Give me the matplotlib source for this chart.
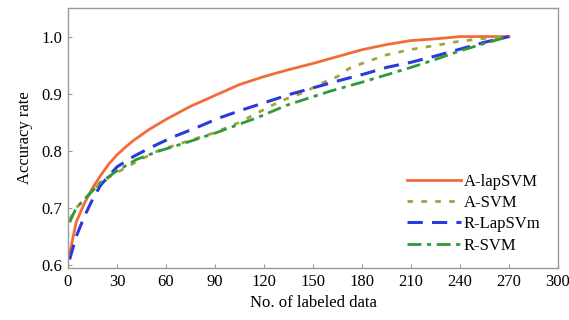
import matplotlib
matplotlib.use("Agg")
import matplotlib.pyplot as plt

plt.rcParams['font.family'] = ['Liberation Serif', 'DejaVu Serif']

x_lap = [1, 5, 10, 15, 20, 25, 30, 35, 40, 50, 60, 75, 90, 105, 120, 135, 150, 165, 180, 195, 210, 225, 240, 255, 270]
a_lapsvm = [0.62, 0.675, 0.708, 0.735, 0.757, 0.777, 0.793, 0.806, 0.818, 0.838, 0.855, 0.878, 0.897, 0.916, 0.930, 0.942, 0.953, 0.965, 0.977, 0.986, 0.993, 0.996, 1.0, 1.0, 1.0]

x_asvm = [1, 5, 10, 20, 30, 40, 55, 70, 90, 105, 115, 130, 145, 155, 165, 172, 181, 195, 209, 224, 238, 252, 270]
a_svm = [0.68, 0.70, 0.715, 0.745, 0.762, 0.778, 0.800, 0.814, 0.832, 0.850, 0.865, 0.887, 0.903, 0.918, 0.930, 0.944, 0.954, 0.968, 0.977, 0.984, 0.991, 0.996, 1.0]

x_rlap = [1, 5, 10, 15, 20, 30, 40, 50, 64, 79, 92, 107, 121, 136, 151, 166, 182, 195, 210, 225, 240, 255, 270]
r_lapsvm = [0.61, 0.65, 0.685, 0.715, 0.74, 0.772, 0.790, 0.805, 0.824, 0.841, 0.857, 0.872, 0.885, 0.899, 0.911, 0.923, 0.935, 0.946, 0.955, 0.966, 0.978, 0.990, 1.0]

x_rsvm = [1, 5, 10, 20, 30, 42, 56, 73, 91, 110, 115, 134, 160, 181, 195, 210, 225, 240, 255, 270]
r_svm = [0.675, 0.70, 0.715, 0.745, 0.765, 0.785, 0.800, 0.815, 0.832, 0.852, 0.857, 0.880, 0.904, 0.921, 0.933, 0.946, 0.960, 0.975, 0.988, 1.0]

xticks = [0, 30, 60, 90, 120, 150, 180, 210, 240, 270, 300]
yticks = [0.6, 0.7, 0.8, 0.9, 1.0]

fig = plt.figure(figsize=(5.69, 3.20), dpi=100)
ax = fig.add_axes([0.1195, 0.1625, 0.8612, 0.8125])

ax.plot(x_lap, a_lapsvm, color='#f26b3a', lw=2.0, ls='-', label='A-lapSVM')
ax.plot(x_asvm, a_svm, color='#a3a33a', lw=2.0, ls=(0, (2, 3)), label='A-SVM')
ax.plot(x_rlap, r_lapsvm, color='#2a3adb', lw=2.2, ls=(0, (5, 3)), label='R-LapSVm')
ax.plot(x_rsvm, r_svm, color='#2e9a3a', lw=2.0, ls=(0, (5, 2, 1.5, 2)), label='R-SVM')

ax.set_xlim(0, 300)
ax.set_ylim(0.595, 1.05)
ax.set_xticks(xticks)
ax.set_yticks(yticks)
ax.set_yticklabels([f"{v:.1f}" for v in yticks])
ax.tick_params(direction='in', length=3, color='#999999', labelsize=12, pad=4)
for s in ax.spines.values():
    s.set_color('#999999')
    s.set_linewidth(1.0)

ax.set_xlabel('No. of labeled data', fontsize=12, labelpad=4)
ax.set_ylabel('Accuracy rate', fontsize=12, labelpad=6)

leg = ax.legend(loc='lower right', bbox_to_anchor=(0.985, 0.017), frameon=False, fontsize=12,
                handlelength=3.2, handletextpad=0.2, labelspacing=0.32, borderaxespad=0.2)

fig.savefig('out.png', dpi=100)
